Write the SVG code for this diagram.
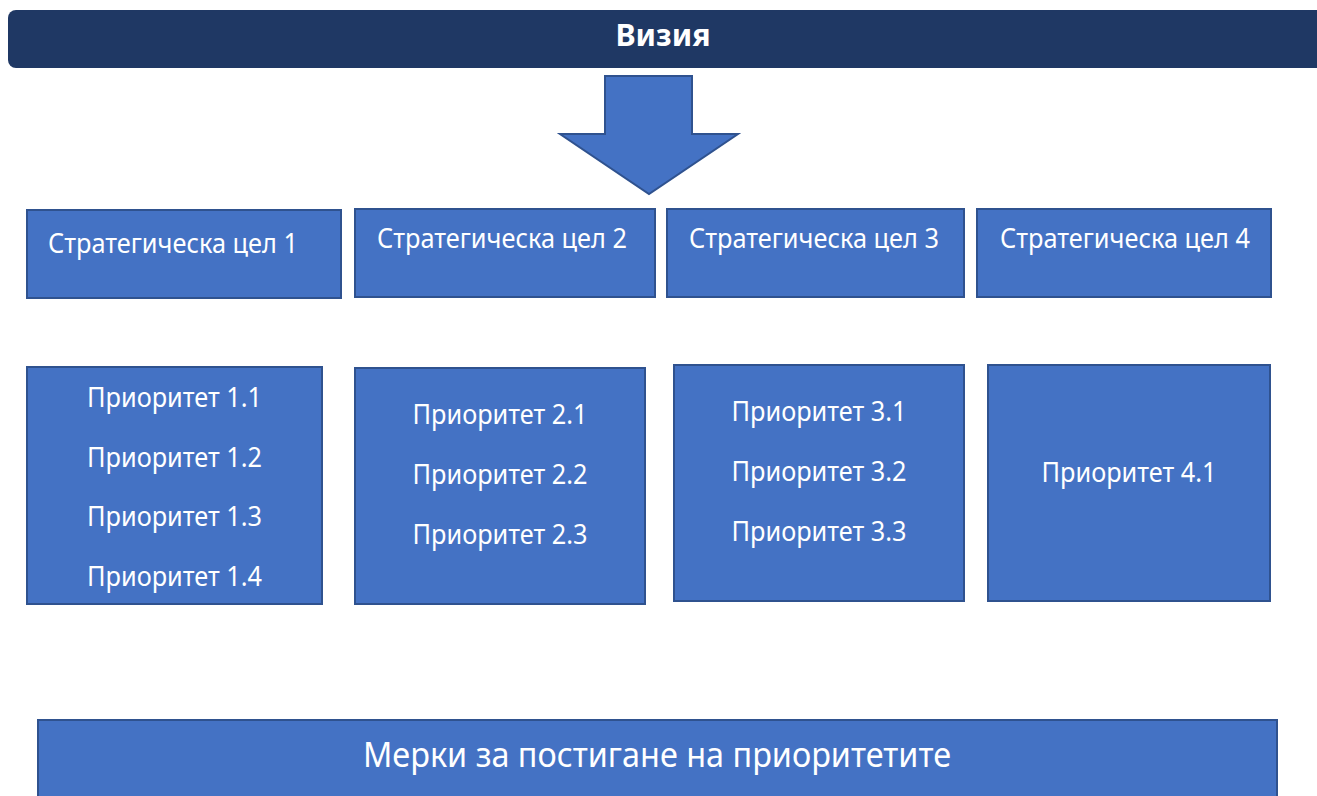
<svg xmlns="http://www.w3.org/2000/svg" width="1317" height="796" viewBox="0 0 1317 796">
<style>
.box{fill:#4472C4;stroke:#2F528F;stroke-width:2}
.t{font-family:"Noto Sans","Open Sans","Liberation Sans",sans-serif;fill:#FFFFFF;font-size:27px}
.c{text-anchor:middle}
.vis{font-weight:bold;font-size:31px}
.big{font-size:34px}
</style>
<rect width="1317" height="796" fill="#FFFFFF"/>
<g id="vision">
<rect x="8" y="10" width="1317" height="58" rx="8" fill="#1F3864"/>
<text class="t c vis" x="663" y="46" textLength="95" lengthAdjust="spacingAndGlyphs">Визия</text>
</g>
<g id="connectors">
<polygon class="box" points="605,76 692,76 692,134 738,134 649,194 560,134 605,134"/>
</g>
<g id="goal1"><rect class="box" x="27" y="210" width="314" height="88"/><text class="t" x="48" y="253" textLength="250" lengthAdjust="spacingAndGlyphs">Стратегическа цел 1</text></g>
<g id="goal2"><rect class="box" x="355" y="209" width="300" height="88"/><text class="t" x="377" y="248" textLength="250" lengthAdjust="spacingAndGlyphs">Стратегическа цел 2</text></g>
<g id="goal3"><rect class="box" x="667" y="209" width="297" height="88"/><text class="t" x="689" y="248" textLength="250" lengthAdjust="spacingAndGlyphs">Стратегическа цел 3</text></g>
<g id="goal4"><rect class="box" x="977" y="209" width="294" height="88"/><text class="t" x="1000" y="248" textLength="250" lengthAdjust="spacingAndGlyphs">Стратегическа цел 4</text></g>
<g id="prio1"><rect class="box" x="27" y="367" width="295" height="237"/>
<text class="t c" x="174.5" y="407" textLength="175" lengthAdjust="spacingAndGlyphs">Приоритет 1.1</text>
<text class="t c" x="174.5" y="467" textLength="175" lengthAdjust="spacingAndGlyphs">Приоритет 1.2</text>
<text class="t c" x="174.5" y="526" textLength="175" lengthAdjust="spacingAndGlyphs">Приоритет 1.3</text>
<text class="t c" x="174.5" y="586" textLength="175" lengthAdjust="spacingAndGlyphs">Приоритет 1.4</text></g>
<g id="prio2"><rect class="box" x="355" y="368" width="290" height="236"/>
<text class="t c" x="500" y="424" textLength="175" lengthAdjust="spacingAndGlyphs">Приоритет 2.1</text>
<text class="t c" x="500" y="484" textLength="175" lengthAdjust="spacingAndGlyphs">Приоритет 2.2</text>
<text class="t c" x="500" y="544" textLength="175" lengthAdjust="spacingAndGlyphs">Приоритет 2.3</text></g>
<g id="prio3"><rect class="box" x="674" y="365" width="290" height="236"/>
<text class="t c" x="819" y="421" textLength="175" lengthAdjust="spacingAndGlyphs">Приоритет 3.1</text>
<text class="t c" x="819" y="481" textLength="175" lengthAdjust="spacingAndGlyphs">Приоритет 3.2</text>
<text class="t c" x="819" y="541" textLength="175" lengthAdjust="spacingAndGlyphs">Приоритет 3.3</text></g>
<g id="prio4"><rect class="box" x="988" y="365" width="282" height="236"/>
<text class="t c" x="1129" y="482" textLength="175" lengthAdjust="spacingAndGlyphs">Приоритет 4.1</text></g>
<g id="measures"><rect class="box" x="38" y="720" width="1239" height="90"/>
<text class="t c big" x="657" y="767" textLength="588" lengthAdjust="spacingAndGlyphs">Мерки за постигане на приоритетите</text></g>
</svg>
